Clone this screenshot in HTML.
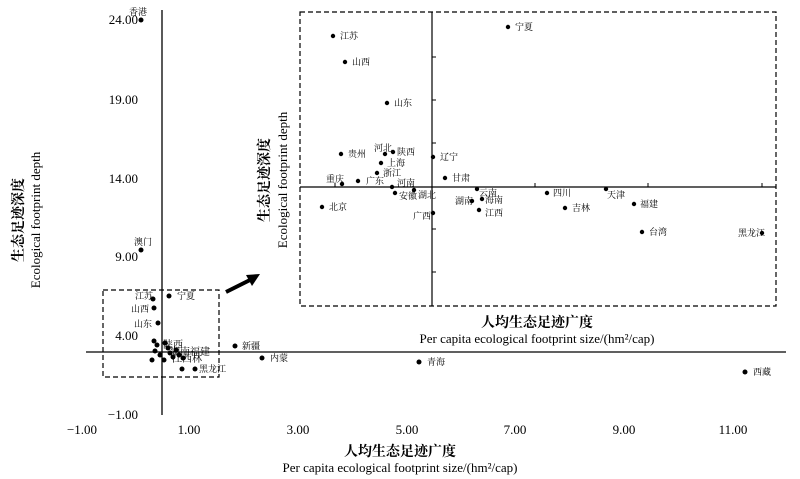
<!DOCTYPE html>
<html><head><meta charset="utf-8"><style>
body{margin:0;background:#fff}
svg{display:block;font-family:"Liberation Serif","Noto Serif CJK SC",serif}
</style></head><body>
<svg width="800" height="479" viewBox="0 0 800 479" xmlns="http://www.w3.org/2000/svg">
<g stroke="#000" fill="none">
<line x1="86" y1="352" x2="786" y2="352" stroke-width="1.3"/>
<line x1="162" y1="10" x2="162" y2="415" stroke-width="1.3"/>
<rect x="103" y="290" width="116" height="87" stroke-dasharray="5,3" stroke-width="1.2"/>
<rect x="300" y="12" width="476" height="294" stroke-dasharray="5,3" stroke-width="1.2"/>
<line x1="300" y1="187" x2="776" y2="187" stroke-width="1.2"/>
<line x1="432" y1="12" x2="432" y2="306" stroke-width="1.2"/>
<line x1="226" y1="292" x2="250" y2="280" stroke-width="4"/>
</g>
<polygon points="260,274 246,275 252,286" fill="#000"/>
<g stroke="#000" stroke-width="1">
<line x1="335" y1="187" x2="335" y2="183"/><line x1="535" y1="187" x2="535" y2="183"/><line x1="648" y1="187" x2="648" y2="183"/><line x1="762" y1="187" x2="762" y2="183"/>
<line x1="432" y1="100" x2="436" y2="100"/><line x1="432" y1="143" x2="436" y2="143"/><line x1="432" y1="229" x2="436" y2="229"/><line x1="432" y1="272" x2="436" y2="272"/><line x1="432" y1="57" x2="436" y2="57"/>
</g>
<g font-size="13" fill="#000" text-anchor="end">
<text x="138" y="24">24.00</text><text x="138" y="104">19.00</text><text x="138" y="183">14.00</text><text x="138" y="261">9.00</text><text x="138" y="340">4.00</text><text x="138" y="419">−1.00</text>
</g>
<g font-size="13" fill="#000" text-anchor="middle">
<text x="82" y="434">−1.00</text><text x="189" y="434">1.00</text><text x="298" y="434">3.00</text><text x="407" y="434">5.00</text><text x="515" y="434">7.00</text><text x="624" y="434">9.00</text><text x="733" y="434">11.00</text>
<text x="400" y="456" font-size="14" font-weight="bold">人均生态足迹广度</text>
<text x="400" y="472" font-size="13">Per capita ecological footprint size/(hm²/cap)</text>
<text x="537" y="327" font-size="14" font-weight="bold">人均生态足迹广度</text>
<text x="537" y="343" font-size="13">Per capita ecological footprint size/(hm²/cap)</text>
<text transform="translate(23,220) rotate(-90)" font-size="14" font-weight="bold">生态足迹深度</text>
<text transform="translate(40,220) rotate(-90)" font-size="13">Ecological footprint depth</text>
<text transform="translate(269,180) rotate(-90)" font-size="14" font-weight="bold">生态足迹深度</text>
<text transform="translate(287,180) rotate(-90)" font-size="13">Ecological footprint depth</text>
</g>
<g fill="#000" font-size="9">
<circle cx="141" cy="20" r="2.5"/><text x="129" y="15">香港</text>
<circle cx="141" cy="250" r="2.5"/><text x="134" y="245">澳门</text>
<circle cx="153" cy="299" r="2.5"/><text x="135" y="299">江苏</text>
<circle cx="169" cy="296" r="2.5"/><text x="177" y="299">宁夏</text>
<circle cx="154" cy="308" r="2.5"/><text x="131" y="312">山西</text>
<circle cx="158" cy="323" r="2.5"/><text x="134" y="327">山东</text>
<circle cx="235" cy="346" r="2.5"/><text x="242" y="349">新疆</text>
<circle cx="262" cy="358" r="2.5"/><text x="270" y="361">内蒙</text>
<circle cx="419" cy="362" r="2.5"/><text x="427" y="365">青海</text>
<circle cx="745" cy="372" r="2.5"/><text x="753" y="375">西藏</text>
<circle cx="152" cy="360" r="2.5"/>
<circle cx="182" cy="369" r="2.5"/><circle cx="195" cy="369" r="2.5"/><text x="199" y="372">黑龙江</text>
<circle cx="154" cy="341" r="2.5"/><circle cx="157" cy="345" r="2.5"/><circle cx="155" cy="351" r="2.5"/><circle cx="160" cy="355" r="2.5"/>
<circle cx="165" cy="343" r="2.5"/><circle cx="168" cy="348" r="2.5"/><circle cx="170" cy="353" r="2.5"/><circle cx="173" cy="357" r="2.5"/><circle cx="176" cy="350" r="2.5"/><circle cx="179" cy="355" r="2.5"/><circle cx="183" cy="358" r="2.5"/><circle cx="164" cy="360" r="2.5"/>
<text x="163" y="348" font-size="10">陕西</text><text x="170" y="355" font-size="10">湖南福建</text><text x="172" y="362" font-size="10">江西林</text>
<circle cx="508" cy="27" r="2.2"/><text x="515" y="30">宁夏</text>
<circle cx="333" cy="36" r="2.2"/><text x="340" y="39">江苏</text>
<circle cx="345" cy="62" r="2.2"/><text x="352" y="65">山西</text>
<circle cx="387" cy="103" r="2.2"/><text x="394" y="106">山东</text>
<circle cx="341" cy="154" r="2.2"/><text x="348" y="157">贵州</text>
<circle cx="385" cy="154" r="2.2"/><text x="374" y="151">河北</text>
<circle cx="393" cy="152" r="2.2"/><text x="397" y="155">陕西</text>
<circle cx="381" cy="163" r="2.2"/><text x="387" y="166">上海</text>
<circle cx="377" cy="173" r="2.2"/><text x="383" y="176">浙江</text>
<circle cx="342" cy="184" r="2.2"/><text x="326" y="182">重庆</text>
<circle cx="358" cy="181" r="2.2"/><text x="366" y="184">广东</text>
<circle cx="392" cy="187" r="2.2"/><text x="397" y="186">河南</text>
<circle cx="395" cy="193" r="2.2"/><text x="399" y="199">安徽</text>
<circle cx="414" cy="190" r="2.2"/><text x="418" y="198">湖北</text>
<circle cx="322" cy="207" r="2.2"/><text x="329" y="210">北京</text>
<circle cx="433" cy="157" r="2.2"/><text x="440" y="160">辽宁</text>
<circle cx="445" cy="178" r="2.2"/><text x="452" y="181">甘肃</text>
<circle cx="433" cy="213" r="2.2"/><text x="413" y="219">广西</text>
<circle cx="477" cy="189" r="2.2"/><text x="479" y="196">云南</text>
<circle cx="472" cy="201" r="2.2"/><text x="455" y="204">湖南</text>
<circle cx="482" cy="199" r="2.2"/><text x="485" y="203">海南</text>
<circle cx="479" cy="210" r="2.2"/><text x="485" y="216">江西</text>
<circle cx="547" cy="193" r="2.2"/><text x="553" y="196">四川</text>
<circle cx="565" cy="208" r="2.2"/><text x="572" y="211">吉林</text>
<circle cx="606" cy="189" r="2.2"/><text x="607" y="198">天津</text>
<circle cx="634" cy="204" r="2.2"/><text x="640" y="207">福建</text>
<circle cx="642" cy="232" r="2.2"/><text x="649" y="235">台湾</text>
<circle cx="762" cy="233" r="2.2"/><text x="738" y="236">黑龙江</text>
</g>
</svg>
</body></html>
